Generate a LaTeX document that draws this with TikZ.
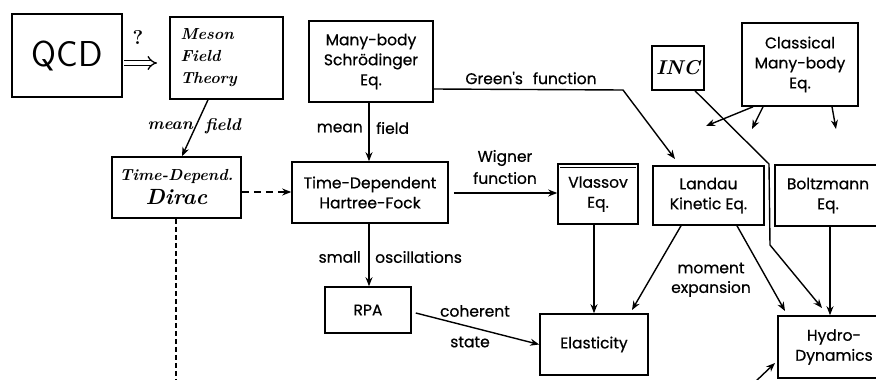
\documentclass[tikz,border=0pt]{standalone}
\usepackage{fontspec}
\newfontfamily\pr{Poppins}[FakeBold=0.6]
\usetikzlibrary{arrows.meta,calc}
\begin{document}
\begin{tikzpicture}[x=1pt,y=-1pt,
  box/.style={draw, line width=1.6pt, inner sep=0pt, align=center, font=\pr\fontsize{15.5}{20}\selectfont},
  hbox/.style={draw, line width=1.6pt, inner sep=0pt, align=left, font=\itshape\bfseries\fontsize{16}{22}\selectfont},
  lbl/.style={inner sep=0pt, font=\pr\fontsize{15.5}{16}\selectfont},
  hlbl/.style={inner sep=0pt, font=\itshape\bfseries\fontsize{17}{17}\selectfont},
  arr/.style={line width=1.4pt, -{Stealth[length=9pt,width=7pt]}},
  ln/.style={line width=1.4pt}]
\useasboundingbox (0,0) rectangle (876,380);
% boxes
\node[hbox, minimum width=110pt, minimum height=83pt, font=\sffamily\fontsize{36}{36}\selectfont] (qcd) at (67,55.5) {QCD};
\node[hbox, minimum width=113pt, minimum height=82pt, text width=92pt] (meson) at (226.5,58) {Meson\\Field\\Theory};
\node[box, minimum width=124pt, minimum height=81pt] (mb) at (371,61.5) {Many-body\\Schrödinger\\Eq.};
\node[hbox, minimum width=52pt, minimum height=44pt, font=\itshape\bfseries\fontsize{20}{20}\selectfont] (inc) at (678,68) {INC};
\node[box, minimum width=116pt, minimum height=83pt] (cl) at (800,64.5) {Classical\\Many-body\\Eq.};
\node[hbox, align=center, minimum width=129pt, minimum height=61pt] (dirac) at (176.5,187.5) {Time-Depend.\\[2pt]{\fontsize{22}{22}\selectfont Dirac}};
\node[box, minimum width=156pt, minimum height=61pt] (tdhf) at (370,192.5) {Time-Dependent\\Hartree-Fock};
\node[box, minimum width=80pt, minimum height=60pt] (vl) at (598,194) {Vlassov\\Eq.};
\draw[line width=1.2pt] ($(vl.north west)+(3,4)$) -- ($(vl.north east)+(-3,4)$);
\node[box, minimum width=111pt, minimum height=59pt] (lan) at (708.5,195.5) {Landau\\Kinetic Eq.};
\node[box, minimum width=106pt, minimum height=61pt] (bol) at (828,195.5) {Boltzmann\\Eq.};
\node[box, minimum width=86pt, minimum height=46pt] (rpa) at (368,310) {RPA};
\node[box, minimum width=108pt, minimum height=61pt] (el) at (594,344.5) {Elasticity};
\node[box, minimum width=112pt, minimum height=62pt] (hy) at (834,347) {Hydro-\\Dynamics};
% QCD -> Meson
\coordinate (q1) at (124,63); \coordinate (q2) at (157,63);
\draw[line width=1.3pt, double distance=3.5pt, -{Implies}] (q1) -- (q2);
\node[inner sep=0pt, font=\bfseries\fontsize{20}{20}\selectfont] (qm) at (138,38) {?};
% Meson -> Dirac
\draw[arr] (meson.south -| 208,0) -- (dirac.north -| 182,0);
\node[hlbl, anchor=east] (mean1) at (193,126) {mean};
\node[hlbl, anchor=west] (field1) at (205,126) {field};
% Dirac -> TDHF dashed
\draw[arr, dash pattern=on 7pt off 5pt] (dirac.east |- 0,192) -- (tdhf.west |- 0,192);
\coordinate (dbot) at (176,382);
\draw[ln, dash pattern=on 5pt off 3pt] (dirac.south -| 176,0) -- (dbot);
% MB -> TDHF
\draw[arr] (mb.south -| 369,0) -- (tdhf.north -| 369,0);
\node[lbl, anchor=east] (mean2) at (363,128) {mean};
\node[lbl, anchor=west] (field2) at (376,128) {field};
% MB -> Landau (Green's)
\coordinate (g1) at (623,90);
\coordinate (g2) at (675,159);
\draw[arr] (mb.east |- 0,89) -- (g1) -- (g2);
\node[lbl] (green) at (531,78) {Green's\hspace{10pt}function};
% TDHF -> Vlassov
\draw[arr] (tdhf.east |- 0,193) ++(5,0) -- (vl.west |- 0,193);
\node[lbl] (wig1) at (505,158) {Wigner};
\node[lbl] (wig2) at (505,178) {function};
% TDHF -> RPA
\draw[arr] (tdhf.south -| 369,0) -- (rpa.north -| 369,0);
\node[lbl, anchor=east] (small) at (361,257) {small};
\node[lbl, anchor=west] (osc) at (375,257) {oscillations};
% RPA -> Elasticity
\draw[arr] ($(rpa.east)+(4,3)$) -- (el.west);
\node[lbl] (coh) at (475,311) {coherent};
\node[lbl] (st) at (470,342) {state};
% Vlassov -> Elasticity
\draw[arr] (vl.south -| 594,0) -- (el.north -| 594,0);
% Landau -> Elasticity / Hydro
\coordinate (e1) at (632,310);
\draw[arr] (lan.south -| 681,0) -- (e1);
\coordinate (h1) at (785,311);
\draw[arr] (lan.south -| 737,0) -- (h1);
\node[lbl] (mom1) at (711,268) {moment};
\node[lbl] (mom2) at (711,289) {expansion};
% Boltzmann -> Hydro
\draw[arr] (bol.south -| 830,0) -- (hy.north -| 830,0);
% INC -> Hydro
\coordinate (i1) at (769,164);
\coordinate (i2) at (770,245);
\coordinate (i3) at (822,308);
\draw[arr] (inc.south -| 695,0) -- (i1) -- (i2) -- (i3);
% Classical arrows
\coordinate (c1) at (706,126);
\coordinate (c2) at (752,129);
\coordinate (c3) at (836,129);
\draw[arr] (cl.south -| 753,0) -- (c1);
\draw[arr] (cl.south -| 763,0) -- (c2);
\draw[arr] (cl.south -| 832,0) -- (c3);
% arrow into Hydro from below
\coordinate (b1) at (755,382);
\coordinate (b2) at (775,363);
\draw[arr] (b1) -- (b2);
\end{tikzpicture}
\end{document}
